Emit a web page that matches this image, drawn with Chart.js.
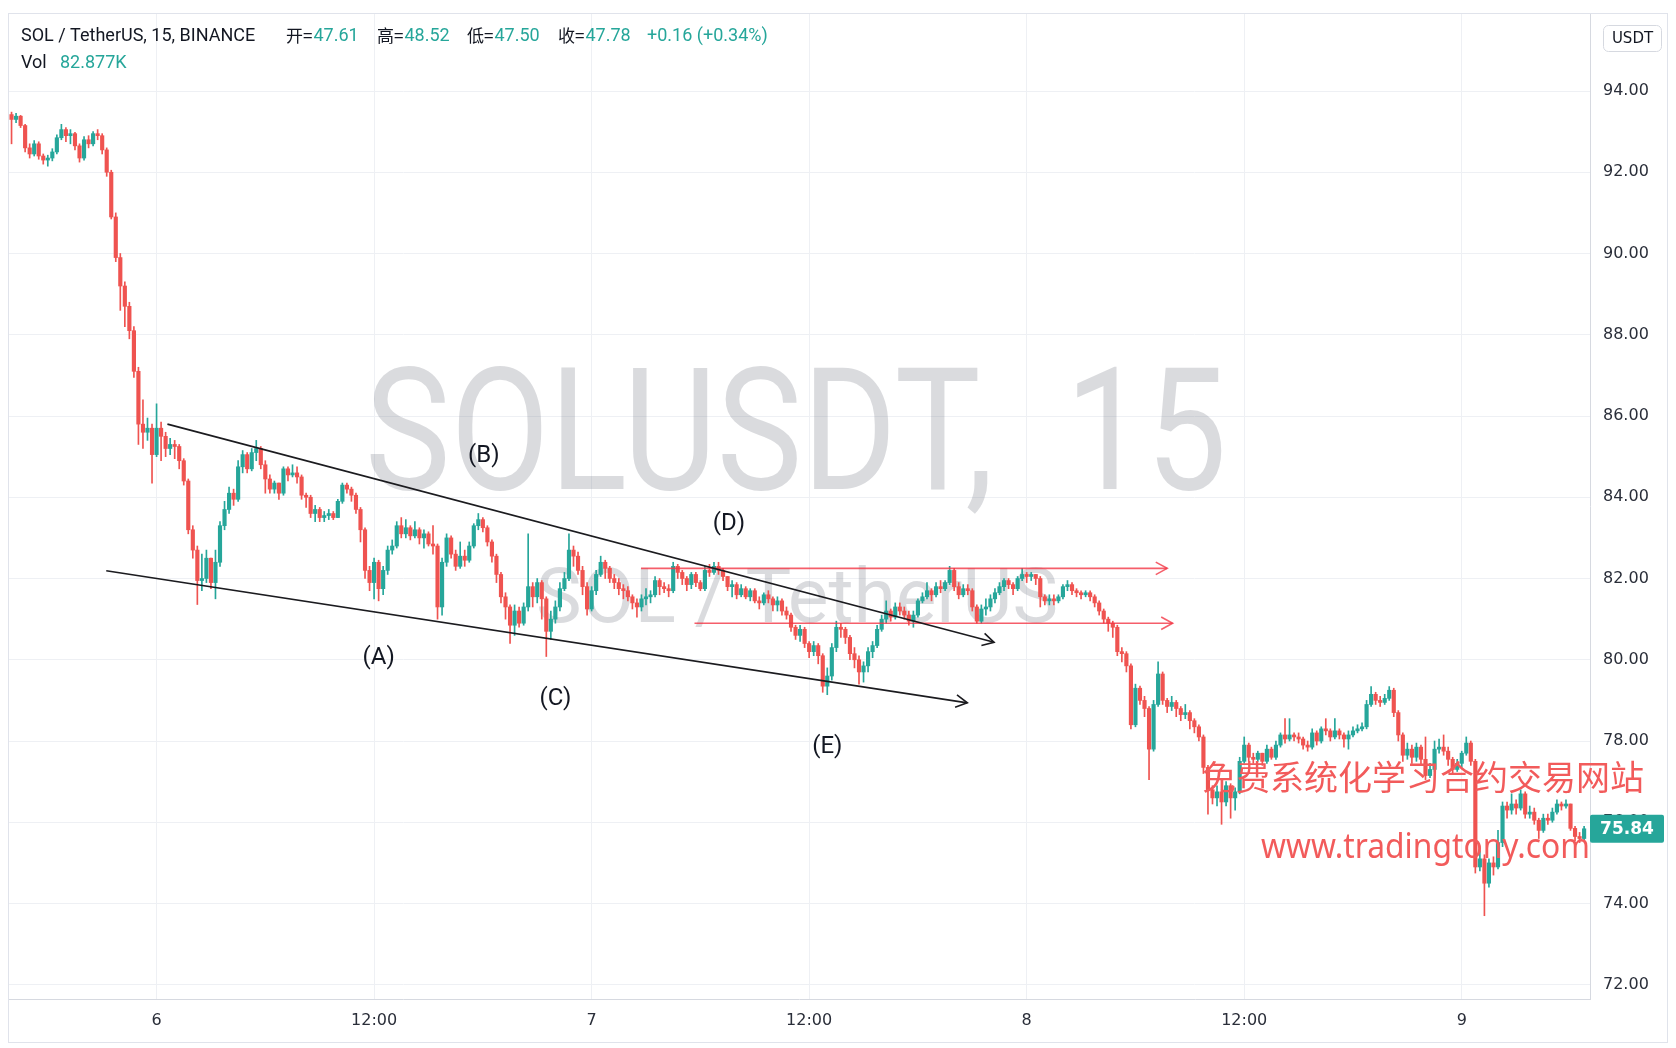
<!DOCTYPE html>
<html><head><meta charset="utf-8">
<script src="https://cdn.jsdelivr.net/npm/chart.js@4.4.1/dist/chart.umd.min.js"></script>
<style>html,body{margin:0;padding:0;background:#fff;overflow:hidden}</style>
</head><body>
<canvas id="c" width="1676" height="1048"></canvas>
<script>
// ---- data (15-minute candles, SOL/USDT) ----
const firstOpen = 93.42;
const closes = [
93.30,93.38,93.15,92.60,92.45,92.70,92.40,92.30,92.35,92.50,92.85,93.05,
92.90,92.95,92.65,92.35,92.80,92.70,92.95,92.90,92.55,92.00,90.90,89.90,
89.20,88.70,88.10,87.10,85.80,85.60,85.70,85.05,85.70,85.50,85.20,85.30,
85.25,84.90,84.40,83.20,82.70,81.95,82.00,82.50,81.90,82.40,83.30,83.70,
84.10,83.95,84.75,85.05,84.70,85.10,85.20,84.80,84.45,84.20,84.35,84.10,
84.70,84.55,84.60,84.50,84.05,84.00,83.60,83.70,83.50,83.55,83.60,83.50,
83.90,84.30,84.20,84.05,83.70,83.20,82.20,81.90,82.40,81.75,82.20,82.70,
82.80,83.30,83.10,83.25,83.05,83.20,83.00,83.10,82.85,82.80,81.30,82.40,
83.00,82.60,82.30,82.55,82.45,82.80,83.30,83.45,83.25,82.90,82.55,82.10,
81.55,81.30,80.85,81.20,80.90,81.30,81.80,81.55,81.90,81.50,80.70,81.00,
81.30,81.75,82.00,82.70,82.55,82.20,81.80,81.25,81.70,82.10,82.40,82.25,
82.00,81.90,81.75,81.70,81.55,81.40,81.30,81.50,81.55,81.60,81.95,81.80,
81.75,81.70,82.30,82.15,82.00,81.85,82.10,81.90,81.75,82.20,82.15,82.30,
82.20,82.05,81.80,81.85,81.60,81.75,81.55,81.70,81.45,81.40,81.60,81.50,
81.35,81.45,81.20,81.10,80.80,80.60,80.75,80.40,80.20,80.35,80.10,79.35,
79.60,80.30,80.80,80.75,80.55,80.15,80.00,79.70,79.85,80.20,80.35,80.75,
81.00,81.20,81.05,81.30,81.20,81.10,80.95,81.10,81.45,81.55,81.70,81.60,
81.80,81.75,81.90,82.20,81.80,81.60,81.75,81.70,81.30,80.95,81.25,81.30,
81.50,81.65,81.80,81.95,81.85,81.75,82.00,82.10,82.05,82.10,82.00,81.55,
81.45,81.50,81.45,81.55,81.80,81.85,81.70,81.65,81.60,81.65,81.55,81.40,
81.20,81.00,80.90,80.80,80.20,80.15,79.85,78.40,79.30,79.00,78.80,77.80,
78.90,79.65,79.00,78.85,78.95,78.80,78.65,78.70,78.50,78.35,78.10,77.35,
76.80,76.60,76.75,76.50,76.90,76.60,76.75,77.50,77.90,77.60,77.55,77.70,
77.50,77.80,77.60,77.90,78.15,78.05,78.15,78.10,78.05,77.90,77.85,78.20,
78.00,78.30,78.25,78.10,78.25,78.15,78.05,78.15,78.25,78.30,78.35,78.90,
79.15,79.00,78.95,79.05,79.25,78.70,78.15,77.65,77.80,77.60,77.85,77.55,
77.15,77.30,77.80,77.85,77.75,77.55,77.30,77.45,77.70,77.95,77.50,74.90,
75.10,74.50,75.00,74.90,75.50,76.40,76.30,76.45,76.35,76.70,76.20,76.25,
76.05,75.80,76.10,76.05,76.25,76.45,76.40,76.45,75.85,75.65,75.60,75.84
];
const highs = [
93.48,93.45,93.40,93.18,92.70,92.78,92.75,92.45,92.42,92.58,92.92,93.18,
93.10,93.05,92.98,92.70,92.88,92.90,93.00,93.05,92.95,92.60,92.05,91.00,
90.00,89.30,88.80,88.20,87.20,86.40,85.95,85.80,86.30,85.85,85.60,85.45,
85.40,85.30,84.95,84.45,83.30,82.80,82.60,82.70,82.50,82.70,83.40,83.90,
84.25,84.20,84.90,85.15,85.10,85.20,85.40,85.25,84.90,84.55,84.40,84.35,
84.75,84.75,84.80,84.75,84.55,84.10,84.05,83.80,83.75,83.65,83.70,83.65,
83.95,84.35,84.35,84.25,84.10,83.75,83.25,82.30,82.50,82.45,82.30,82.80,
82.95,83.40,83.50,83.45,83.30,83.40,83.25,83.20,83.15,83.30,82.85,82.50,
83.10,83.05,82.70,82.90,82.70,82.90,83.35,83.60,83.50,83.30,82.95,82.60,
82.15,81.65,81.35,81.35,81.30,81.40,83.10,81.90,82.00,81.95,81.55,81.20,
81.45,81.90,82.15,83.10,82.80,82.65,82.30,81.90,81.80,82.20,82.55,82.45,
82.30,82.10,82.00,81.85,81.80,81.60,81.50,81.60,81.75,81.70,82.05,82.00,
81.90,81.85,82.40,82.35,82.20,82.05,82.15,82.15,81.95,82.30,82.35,82.40,
82.40,82.25,82.05,81.95,81.90,81.85,81.80,81.75,81.75,81.55,81.65,81.70,
81.55,81.55,81.50,81.30,81.15,80.85,80.85,80.80,80.45,80.45,80.40,80.15,
79.80,80.40,80.95,80.90,80.80,80.60,80.30,80.10,79.95,80.30,80.45,80.85,
81.10,81.45,81.25,81.40,81.40,81.30,81.20,81.20,81.50,81.65,81.90,81.75,
81.90,81.95,81.95,82.30,82.25,81.90,81.85,81.85,81.75,81.35,81.35,81.50,
81.60,81.75,81.90,82.00,82.00,81.90,82.05,82.25,82.15,82.15,82.10,82.05,
81.60,81.60,81.60,81.60,81.85,81.95,81.90,81.75,81.70,81.70,81.70,81.60,
81.45,81.25,81.05,80.95,80.85,80.30,80.20,79.90,79.40,79.35,79.10,78.85,
79.00,79.95,79.70,79.05,79.10,79.00,78.85,78.90,78.75,78.55,78.40,78.15,
77.40,76.90,76.90,76.80,77.00,76.95,76.85,77.60,78.10,77.95,77.70,77.75,
77.70,77.90,77.85,78.00,78.20,78.55,78.55,78.20,78.20,78.10,78.00,78.30,
78.25,78.35,78.55,78.30,78.55,78.30,78.20,78.25,78.35,78.40,78.45,79.00,
79.34,79.20,79.10,79.15,79.34,79.30,78.75,78.20,77.95,77.90,77.95,77.90,
78.10,77.45,78.00,78.05,78.15,77.85,77.60,77.55,77.75,78.10,78.00,77.55,
75.30,75.20,75.10,75.15,75.80,76.50,76.50,76.70,76.55,76.80,76.75,76.40,
76.35,76.10,76.20,76.20,76.35,76.55,76.50,76.55,76.45,75.90,75.75,75.90
];
const lows = [
92.70,93.22,93.10,92.50,92.35,92.40,92.32,92.20,92.15,92.28,92.45,92.80,
92.75,92.70,92.55,92.25,92.30,92.60,92.65,92.80,92.45,91.90,90.85,89.80,
88.60,88.20,87.90,86.95,85.30,85.20,85.40,84.35,85.00,84.90,85.00,85.05,
84.95,84.70,84.30,83.10,82.50,81.36,81.70,81.90,81.75,81.50,82.30,83.20,
83.60,83.80,83.90,84.60,84.60,84.65,84.90,84.70,84.10,84.10,84.10,83.95,
84.05,84.40,84.50,84.35,83.95,83.75,83.50,83.40,83.40,83.40,83.45,83.45,
83.50,83.85,84.10,83.90,83.60,82.90,82.00,81.70,81.50,81.45,81.60,82.10,
82.60,82.75,83.00,83.00,82.95,83.00,82.85,82.75,82.80,82.60,81.00,81.10,
82.30,82.50,82.20,82.25,82.30,82.40,82.75,83.20,83.15,82.80,82.40,81.90,
81.40,81.00,80.40,80.60,80.80,80.85,81.20,81.30,81.40,81.00,80.08,80.50,
80.90,81.20,81.70,81.95,82.30,82.10,81.60,81.10,81.20,81.60,82.05,82.00,
81.90,81.75,81.60,81.50,81.45,81.25,81.05,81.20,81.35,81.40,81.55,81.60,
81.65,81.55,81.65,82.00,81.85,81.70,81.75,81.80,81.70,81.70,82.05,82.10,
82.10,81.95,81.70,81.55,81.50,81.55,81.50,81.45,81.40,81.25,81.35,81.40,
81.20,81.20,81.10,81.00,80.70,80.50,80.45,80.30,80.05,80.10,79.90,79.20,
79.14,79.50,80.20,80.55,80.40,80.00,79.80,79.40,79.45,79.70,80.05,80.30,
80.70,80.90,80.95,81.00,81.10,81.00,80.85,80.80,81.05,81.40,81.50,81.45,
81.55,81.65,81.70,81.85,81.70,81.50,81.55,81.60,81.20,80.90,80.90,81.10,
81.20,81.40,81.60,81.70,81.75,81.60,81.70,81.95,81.90,81.95,81.85,81.30,
81.35,81.35,81.35,81.40,81.50,81.70,81.60,81.55,81.50,81.55,81.45,81.30,
81.10,80.90,80.70,80.55,80.10,79.95,79.70,78.30,78.35,78.90,78.60,77.05,
77.75,78.85,78.90,78.70,78.75,78.60,78.50,78.55,78.30,78.20,78.00,77.20,
76.20,76.45,76.40,75.95,76.40,76.10,76.30,76.70,77.45,77.50,77.45,77.50,
77.40,77.45,77.55,77.55,77.85,77.95,78.00,78.00,77.95,77.80,77.75,77.80,
77.90,77.95,78.15,78.00,78.05,78.05,77.85,77.80,78.10,78.20,78.25,78.30,
78.85,78.90,78.85,78.90,79.00,78.60,78.00,77.50,77.55,77.45,77.50,77.40,
77.05,77.10,77.25,77.70,77.65,77.40,77.20,77.25,77.35,77.65,77.40,74.75,
74.80,73.70,74.40,74.70,74.85,75.40,76.10,76.20,76.20,76.30,76.10,76.10,
75.95,75.60,75.75,75.95,76.00,76.20,76.30,76.35,75.80,75.55,75.50,75.55
];
// each candle opens at the previous candle's close
const opens = [firstOpen].concat(closes.slice(0, -1));

const timeTickIdx = [32, 80, 128, 176, 224, 272, 320];
const timeTickLabels = ['6', '12:00', '7', '12:00', '8', '12:00', '9'];
const priceTicks = [72, 74, 76, 78, 80, 82, 84, 86, 88, 90, 92, 94];

// drawings
const upperLineIdx = [34.4, 216.8], upperLinePrice = [85.80, 80.43];
const lowerLineIdx = [20.9, 210.9], lowerLinePrice = [82.19, 78.94];
const topRangeIdx = [138.9, 255.0], topRangePrice = [82.25, 82.25];
const botRangeIdx = [150.7, 256.2], botRangePrice = [80.90, 80.90];
const waveLabels = ['(A)', '(B)', '(C)', '(D)', '(E)'];
const waveIdx = [81.0, 104.2, 120.0, 158.3, 180.0];
const wavePrice = [80.04, 85.01, 79.04, 83.35, 77.85];

const headerTitle = 'SOL / TetherUS, 15, BINANCE';
const headerKeys = ['开=', '高=', '低=', '收='];
const headerVals = ['47.61', '48.52', '47.50', '47.78'];
const headerChange = '+0.16 (+0.34%)';
const volLabel = 'Vol', volValue = '82.877K';
const lastPrice = 75.84;

const UP = '#26a69a', DOWN = '#ef5350';
const idx = closes.map((_, i) => i);
const candleColor = idx.map(i => closes[i] >= opens[i] ? UP : DOWN);
const wickData = idx.map(i => ({x: i, y: [Math.min(lows[i], opens[i], closes[i]), Math.max(highs[i], opens[i], closes[i])]}));
const bodyData = idx.map(i => ({x: i, y: [opens[i], closes[i]]}));
const pts = (xs, ys) => xs.map((x, k) => ({x: x, y: ys[k]}));

const deco = {
  id: 'deco',
  beforeDatasetsDraw(chart) {
    const {ctx, chartArea: a} = chart;
    ctx.save();
    ctx.beginPath(); ctx.rect(a.left, a.top, a.right - a.left, a.bottom - a.top); ctx.clip();
    ctx.fillStyle = 'rgba(117,121,133,0.27)';
    const fit = (text, cx, base, size, w) => {
      ctx.font = size + 'px Roboto';
      const m = ctx.measureText(text).width;
      ctx.save(); ctx.translate(cx, base); ctx.scale(w / m, 1);
      ctx.textAlign = 'center'; ctx.textBaseline = 'alphabetic';
      ctx.fillText(text, 0, 0); ctx.restore();
    };
    fit('SOLUSDT,  15', 796, 489, 170, 862);
    fit('SOL / TetherUS', 797, 622, 76, 522);
    ctx.restore();
  },
  afterDatasetsDraw(chart) {
    const {ctx} = chart;
    const x = chart.scales.x, y = chart.scales.y;
    ctx.save();
    chart.data.datasets.forEach((ds, di) => {
      if (!ds.arrow) return;
      const meta = chart.getDatasetMeta(di);
      const p0 = meta.data[meta.data.length - 2], p1 = meta.data[meta.data.length - 1];
      const ang = Math.atan2(p1.y - p0.y, p1.x - p0.x);
      const L = 13, sp = 0.5;
      ctx.strokeStyle = ds.borderColor; ctx.lineWidth = ds.borderWidth;
      ctx.beginPath();
      ctx.moveTo(p1.x - L * Math.cos(ang - sp), p1.y - L * Math.sin(ang - sp));
      ctx.lineTo(p1.x, p1.y);
      ctx.lineTo(p1.x - L * Math.cos(ang + sp), p1.y - L * Math.sin(ang + sp));
      ctx.stroke();
    });
    ctx.fillStyle = '#131722';
    ctx.font = '24px Roboto';
    ctx.textAlign = 'center'; ctx.textBaseline = 'middle';
    waveLabels.forEach((t, k) => ctx.fillText(t, x.getPixelForValue(waveIdx[k]), y.getPixelForValue(wavePrice[k])));
    ctx.restore();
  },
  afterDraw(chart) {
    const {ctx} = chart;
    const y = chart.scales.y;
    ctx.save();
    // frame
    ctx.strokeStyle = '#e0e3eb'; ctx.lineWidth = 1;
    ctx.strokeRect(8.5, 13.5, 1659, 1029);
    // header
    ctx.textBaseline = 'middle'; ctx.textAlign = 'left';
    ctx.font = '18px Roboto';
    ctx.fillStyle = '#131722';
    ctx.fillText(headerTitle, 21, 36);
    const keyX = [286, 377, 467, 558];
    headerKeys.forEach((k, i) => {
      ctx.font = '17px "Noto Sans CJK SC"'; ctx.fillStyle = '#131722';
      ctx.fillText(k, keyX[i], 36);
      const w = ctx.measureText(k).width;
      ctx.font = '18px Roboto'; ctx.fillStyle = UP;
      ctx.fillText(headerVals[i], keyX[i] + w + 1, 36);
    });
    ctx.fillText(headerChange, 647, 36);
    ctx.fillStyle = '#131722'; ctx.fillText(volLabel, 21, 63);
    ctx.fillStyle = UP; ctx.fillText(volValue, 60, 63);
    // USDT box
    ctx.strokeStyle = '#d6d9e0'; ctx.lineWidth = 1;
    ctx.beginPath(); ctx.roundRect(1603.5, 25.5, 58, 26, 5); ctx.stroke();
    ctx.fillStyle = '#131722'; ctx.font = '15px "DejaVu Sans"'; ctx.textAlign = 'center';
    ctx.fillText('USDT', 1632.5, 39);
    // last price tag
    const py = y.getPixelForValue(lastPrice);
    ctx.fillStyle = UP;
    ctx.beginPath(); ctx.roundRect(1590, py - 14, 74, 28, 2); ctx.fill();
    ctx.fillStyle = '#ffffff'; ctx.font = 'bold 17px "DejaVu Sans"';
    ctx.fillText(lastPrice.toFixed(2), 1627, py + 1);
    // promo texts
    ctx.fillStyle = '#f25b5b'; ctx.textAlign = 'left'; ctx.textBaseline = 'alphabetic';
    ctx.font = '34px "Noto Sans CJK SC"';
    ctx.fillText('免费系统化学习合约交易网站', 1202, 790);
    ctx.font = '34px "Noto Sans"';
    const u = 'www.tradingtony.com';
    const uw = ctx.measureText(u).width;
    ctx.save(); ctx.translate(1261, 858); ctx.scale(329 / uw, 1); ctx.fillText(u, 0, 0); ctx.restore();
    ctx.restore();
  }
};

new Chart(document.getElementById('c'), {
  type: 'bar',
  data: {
    datasets: [
      {data: wickData, backgroundColor: candleColor, barThickness: 1, grouped: false, order: 3},
      {data: bodyData, backgroundColor: candleColor, barThickness: 3.5, minBarLength: 1, grouped: false, order: 2},
      {type: 'line', data: pts(upperLineIdx, upperLinePrice), borderColor: '#1b1b1f', borderWidth: 1.6, pointRadius: 0, arrow: true, order: 1},
      {type: 'line', data: pts(lowerLineIdx, lowerLinePrice), borderColor: '#1b1b1f', borderWidth: 1.6, pointRadius: 0, arrow: true, order: 1},
      {type: 'line', data: pts(topRangeIdx, topRangePrice), borderColor: 'rgba(242,54,69,0.8)', borderWidth: 1.6, pointRadius: 0, arrow: true, order: 1},
      {type: 'line', data: pts(botRangeIdx, botRangePrice), borderColor: 'rgba(242,54,69,0.8)', borderWidth: 1.6, pointRadius: 0, arrow: true, order: 1}
    ]
  },
  options: {
    responsive: false, animation: false, devicePixelRatio: 1, events: [],
    layout: {padding: {left: 8, top: 13, right: 8, bottom: 6}},
    plugins: {legend: {display: false}, tooltip: {enabled: false}},
    scales: {
      x: {
        type: 'linear', position: 'bottom', min: -0.78, max: 348.3, offset: false,
        grid: {color: '#eef0f4', drawTicks: false, offset: false},
        border: {display: true, color: '#d6d9e0'},
        ticks: {autoSkip: false, maxRotation: 0, padding: 12, color: '#2a2e39', font: {family: 'DejaVu Sans', size: 16},
          callback: (v) => { const k = timeTickIdx.indexOf(v); return k >= 0 ? timeTickLabels[k] : ''; }},
        afterBuildTicks: (s) => { s.ticks = timeTickIdx.map(v => ({value: v})); },
        afterFit: (s) => { s.height = 43; s.paddingLeft = 0; s.paddingRight = 0; }
      },
      y: {
        type: 'linear', position: 'right', min: 71.65, max: 95.92,
        grid: {color: '#eef0f4', drawTicks: false, offset: false},
        border: {display: true, color: '#d6d9e0'},
        ticks: {padding: 13, color: '#2a2e39', font: {family: 'DejaVu Sans', size: 16}, callback: (v) => Number(v).toFixed(2)},
        afterBuildTicks: (s) => { s.ticks = priceTicks.map(v => ({value: v})); },
        afterFit: (s) => { s.width = 78; s.paddingTop = 0; s.paddingBottom = 0; }
      }
    }
  },
  plugins: [deco]
});
</script>
</body></html>
